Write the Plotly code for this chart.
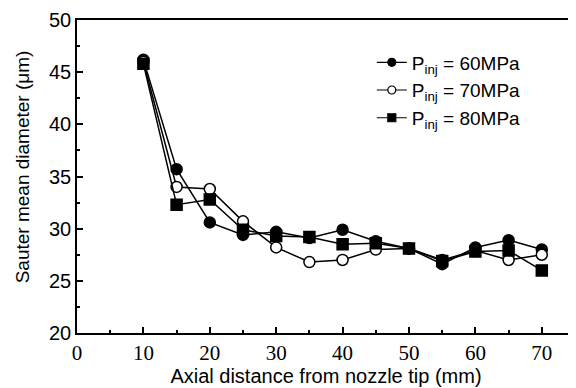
import plotly.graph_objects as go

x_mm = [10, 15, 20, 25, 30, 35, 40, 45, 50, 55, 60, 65, 70]
smd_60 = [46.2, 35.7, 30.6, 29.4, 29.7, 29.1, 29.9, 28.8, 28.1, 26.6, 28.2, 28.9, 28.0]
smd_70 = [46.0, 34.0, 33.8, 30.7, 28.2, 26.8, 27.0, 28.0, 28.1, 27.0, 27.9, 27.0, 27.5]
smd_80 = [45.8, 32.3, 32.8, 29.9, 29.3, 29.2, 28.5, 28.6, 28.1, 26.9, 27.8, 27.9, 26.0]
names = ["P<sub>inj</sub> = 60MPa", "P<sub>inj</sub> = 70MPa", "P<sub>inj</sub> = 80MPa"]
symbols = ["circle", "circle", "square"]
fills = ["black", "white", "black"]
x_title = "Axial distance from nozzle tip (mm)"
y_title = "Sauter mean diameter (μm)"

fig = go.Figure()
for ys, nm, sym, fc in zip([smd_60, smd_70, smd_80], names, symbols, fills):
    fig.add_trace(go.Scatter(
        x=x_mm, y=ys, name=nm, mode="lines+markers", showlegend=False,
        line=dict(color="black", width=1.5),
        marker=dict(symbol=sym, size=11, color=fc, line=dict(color="black", width=1.5)),
    ))
# legend entries with smaller symbols, as in the reference
for nm, sym, fc in zip(names, symbols, fills):
    fig.add_trace(go.Scatter(
        x=[None], y=[None], name=nm, mode="lines+markers",
        line=dict(color="black", width=1.2),
        marker=dict(symbol=sym, size=8, color=fc, line=dict(color="black", width=1.2)),
    ))

fig.update_layout(
    width=568, height=380,
    margin=dict(l=69, r=1, t=12, b=55),
    paper_bgcolor="white", plot_bgcolor="white",
    font=dict(family="Liberation Sans, Arial", color="black"),
    showlegend=True,
    legend=dict(x=0.592, y=0.925, xanchor="left", yanchor="top",
                bgcolor="rgba(0,0,0,0)", font=dict(size=19, family="Liberation Sans"),
                tracegroupgap=0),
    annotations=[dict(text=y_title, textangle=-90, xref="paper", yref="paper",
                      x=-0.110, y=0.53, xanchor="center", yanchor="middle",
                      showarrow=False, font=dict(size=19))],
)
fig.update_xaxes(
    range=[0, 75], dtick=10, tick0=0, automargin=False,
    showline=True, linecolor="black", linewidth=1.5, mirror=True,
    ticks="inside", ticklen=6, tickcolor="black", tickwidth=1.5,
    minor=dict(ticks="inside", dtick=5, ticklen=3, tickcolor="black"),
    showgrid=False, zeroline=False,
    tickfont=dict(family="Liberation Serif, Times New Roman", size=21),
    title=dict(text=x_title, font=dict(size=20), standoff=2),
)
fig.update_yaxes(
    range=[20, 50], dtick=5, tick0=20, automargin=False,
    showline=True, linecolor="black", linewidth=1.5, mirror=True,
    ticks="inside", ticklen=6, tickcolor="black", tickwidth=1.5,
    minor=dict(ticks="inside", dtick=2.5, ticklen=3, tickcolor="black"),
    showgrid=False, zeroline=False,
    tickfont=dict(family="Liberation Sans, Arial", size=20),
)
fig.write_html("out.html")
